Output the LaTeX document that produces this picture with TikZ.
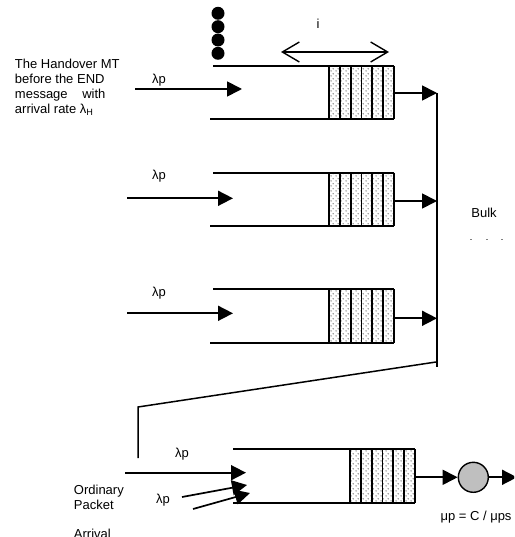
\documentclass[tikz,border=0pt]{standalone}
\usepackage{fontspec}
\setmainfont{Liberation Sans}
\usetikzlibrary{arrows.meta,patterns,positioning,calc}
\pgfdeclarepatternformonly{sparse dots}{\pgfpointorigin}{\pgfpoint{5pt}{5pt}}{\pgfpoint{5pt}{5pt}}{%
  \pgfpathcircle{\pgfpoint{1.2pt}{1.2pt}}{0.6pt}%
  \pgfpathcircle{\pgfpoint{3.7pt}{3.7pt}}{0.6pt}%
  \pgfusepath{fill}}
\tikzset{every picture/.style={line width=1.9pt}}
\tikzset{
  lbl/.style={font=\fontsize{13}{15}\selectfont, inner sep=0pt},
  flow/.style={line width=1.7pt, -{Triangle[length=15pt,width=15pt]}},
  span/.style={line width=1.4pt, {Straight Barb[length=17pt,width=20pt]}-{Straight Barb[length=17pt,width=20pt]}},
}

\begin{document}
\begin{tikzpicture}[x=1pt,y=-1pt]
    \useasboundingbox (0,0) rectangle (514,537);
    \clip (0,0) rectangle (514,537);

    % handover MTs waiting in line
    \foreach \yc in {13.3,26.7,40,53.3}
        \fill (218,\yc) circle (6.5pt);

    % queue length i
    \coordinate (iL) at (281,52);
    \coordinate (iR) at (389,52);
    \draw[span] (iL) -- (iR);
    \node[lbl, anchor=base] (ilabel) at (318,29) {i};

    % the three bulk queues
    \foreach \n/\yt/\yb/\yin/\xin/\xtip/\yout/\ylam in
        {1/66/119/89/135/242/93/84, 2/172.7/226/198.3/127/233/201/179, 3/289.3/342.7/313.3/127/233/318.3/296} {
        \draw (213,\yt) -- (394,\yt);
        \draw (210,\yb) -- (394,\yb);
        \fill[pattern=sparse dots] (329,\yt) rectangle (394,\yb);
        \foreach \k in {0,...,6}
            \draw ({329+\k*65/6},\yt) -- ({329+\k*65/6},\yb);
        \coordinate (in\n) at (\xin,\yin);
        \coordinate (arr\n) at (\xtip,\yin);
        \coordinate (out\n) at (394,\yout);
        \coordinate (bulk\n) at (437,\yout);
        \draw[flow] (in\n) -- (arr\n);
        \draw[flow] (out\n) -- (bulk\n);
        \node[lbl, anchor=base] (lam\n) at (159,\ylam) {λp};
    }

    % bulk arrival line down to the ordinary queue
    \coordinate (bulkend) at (437,367);
    \coordinate (bulkturn) at (436,362);
    \coordinate (feedcorner) at (138,407);
    \coordinate (feedend) at (138,458);
    \draw (bulk1) -- (bulkend);
    \draw[line width=1.5pt] (bulkturn) -- (feedcorner) -- (feedend);
    \node[lbl, anchor=base] (bulk) at (484,217) {Bulk};
    \foreach \xd in {470,486,501}
        \draw[line width=0.8pt, gray] (\xd,239) -- ++(2,0);

    % ordinary packet queue
    \draw (233,449.3) -- (415,449.3);
    \draw (233,502.7) -- (415,502.7);
    \fill[pattern=sparse dots] (350,449.3) rectangle (415,502.7);
    \foreach \k in {0,...,6}
        \draw ({350+\k*65/6},449.3) -- ({350+\k*65/6},502.7);
    \coordinate (ordin) at (125,472.7);
    \coordinate (ordtip) at (246,472.7);
    \coordinate (slantA) at (182,497);
    \coordinate (slantAtip) at (247,485);
    \coordinate (slantB) at (193,509);
    \coordinate (slantBtip) at (250,493);
    \draw[flow] (ordin) -- (ordtip);
    \draw[flow] (slantA) -- (slantAtip);
    \draw[flow] (slantB) -- (slantBtip);
    \node[lbl, anchor=base] (lam4) at (182,457) {λp};
    \node[lbl, anchor=base] (lam5) at (163,503) {λp};

    % server
    \coordinate (qout) at (415,477.3);
    \coordinate (leave) at (517,477.3);
    \node[circle, draw, fill=black!25, minimum size=30pt, inner sep=0pt, line width=1.4pt] (server) at (473.3,477.3) {};
    \draw[flow] (qout) -- (server.west);
    \draw[flow] (server.east) -- (leave);
    \node[lbl, anchor=base] (rate) at (476,520) {μp = C / μps};

    % text on the left
    \node[lbl, anchor=north west, align=left] (handover) at (14,58)
        {The Handover MT\\before the END\\message\hspace{11pt} with\\arrival rate λ\textsubscript{H}};
    \node[lbl, anchor=north west, align=left] (ordinary) at (73,484)
        {Ordinary\\Packet\\[14pt]Arrival};
\end{tikzpicture}
\end{document}
